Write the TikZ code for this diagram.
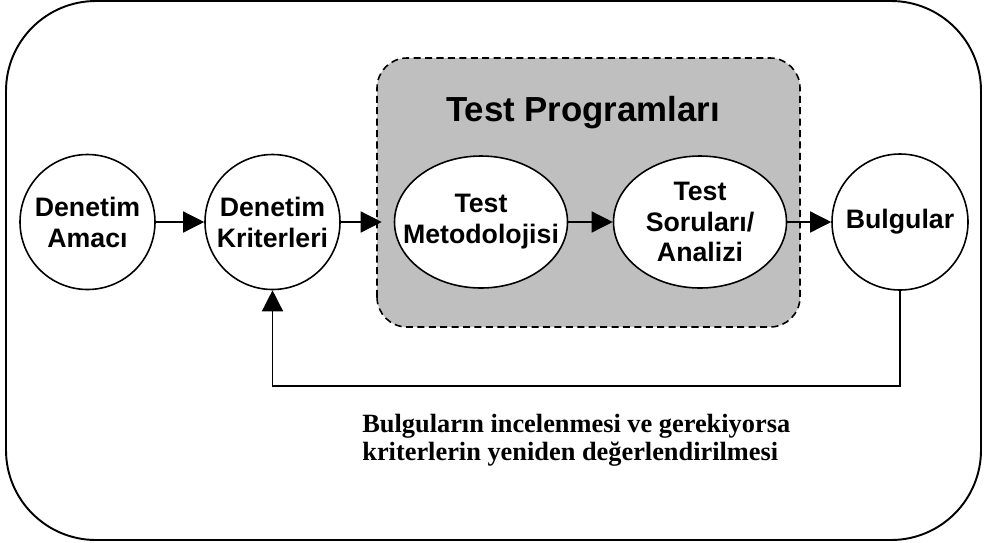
\documentclass[tikz,border=0pt]{standalone}
\usepackage{fontspec}
\setmainfont{Liberation Sans}
\newfontfamily\captionfont{Liberation Serif}
\usetikzlibrary{arrows.meta,shapes.geometric}

\tikzset{
  stage/.style={draw,line width=0.9pt,fill=white,circle,minimum size=2.7cm,inner sep=0pt,
    align=center,font=\fontsize{15.2}{17.6}\selectfont\bfseries},
  substage/.style={stage,ellipse,inner xsep=-0.45cm,minimum width=3.46cm,minimum height=2.64cm},
  flow/.style={-{Triangle[length=12pt,width=12pt]},line width=0.8pt}
}

\begin{document}
\begin{tikzpicture}
    \useasboundingbox (0,0) rectangle (19.7,10.84);
    % outer frame
    \draw[line width=1.1pt,rounded corners=1.8cm] (0.12,0.04) rectangle (19.62,10.82);
    % test programs box
    \draw[dash pattern=on 4pt off 2.5pt,line width=0.9pt,fill=black!25,rounded corners=0.6cm]
      (7.54,4.3) rectangle (16.0,9.68);
    \node[font=\fontsize{19.8}{22}\selectfont\bfseries] (title) at (11.66,8.58) {Test Programları};

    \node[stage] (amac) at (1.75,6.4) {Denetim\\Amacı};
    \node[stage] (krit) at (5.45,6.4) {Denetim\\Kriterleri};
    \node[substage] (metod) at (9.62,6.4) {Test\\Metodolojisi};
    \node[substage] (soru) at (14.0,6.4) {Test\\Soruları/\\Analizi};
    \node[stage,minimum size=2.72cm] (bulg) at (18.0,6.4) {Bulgular};

    \draw[flow] (amac) -- (krit);
    \draw[flow,shorten >=0.24cm] (krit) -- (metod);
    \draw[flow] (metod) -- (soru);
    \draw[flow] (soru) -- (bulg);
    % feedback loop
    \draw[flow] (bulg.south) -- ++(0,-1.9) -| (krit.south);

    \node[anchor=north west,inner sep=0pt,align=left,
      font=\captionfont\fontsize{15}{16}\selectfont\bfseries] (note) at (7.24,2.56)
      {Bulguların incelenmesi ve gerekiyorsa\\kriterlerin yeniden değerlendirilmesi};
\end{tikzpicture}
\end{document}
